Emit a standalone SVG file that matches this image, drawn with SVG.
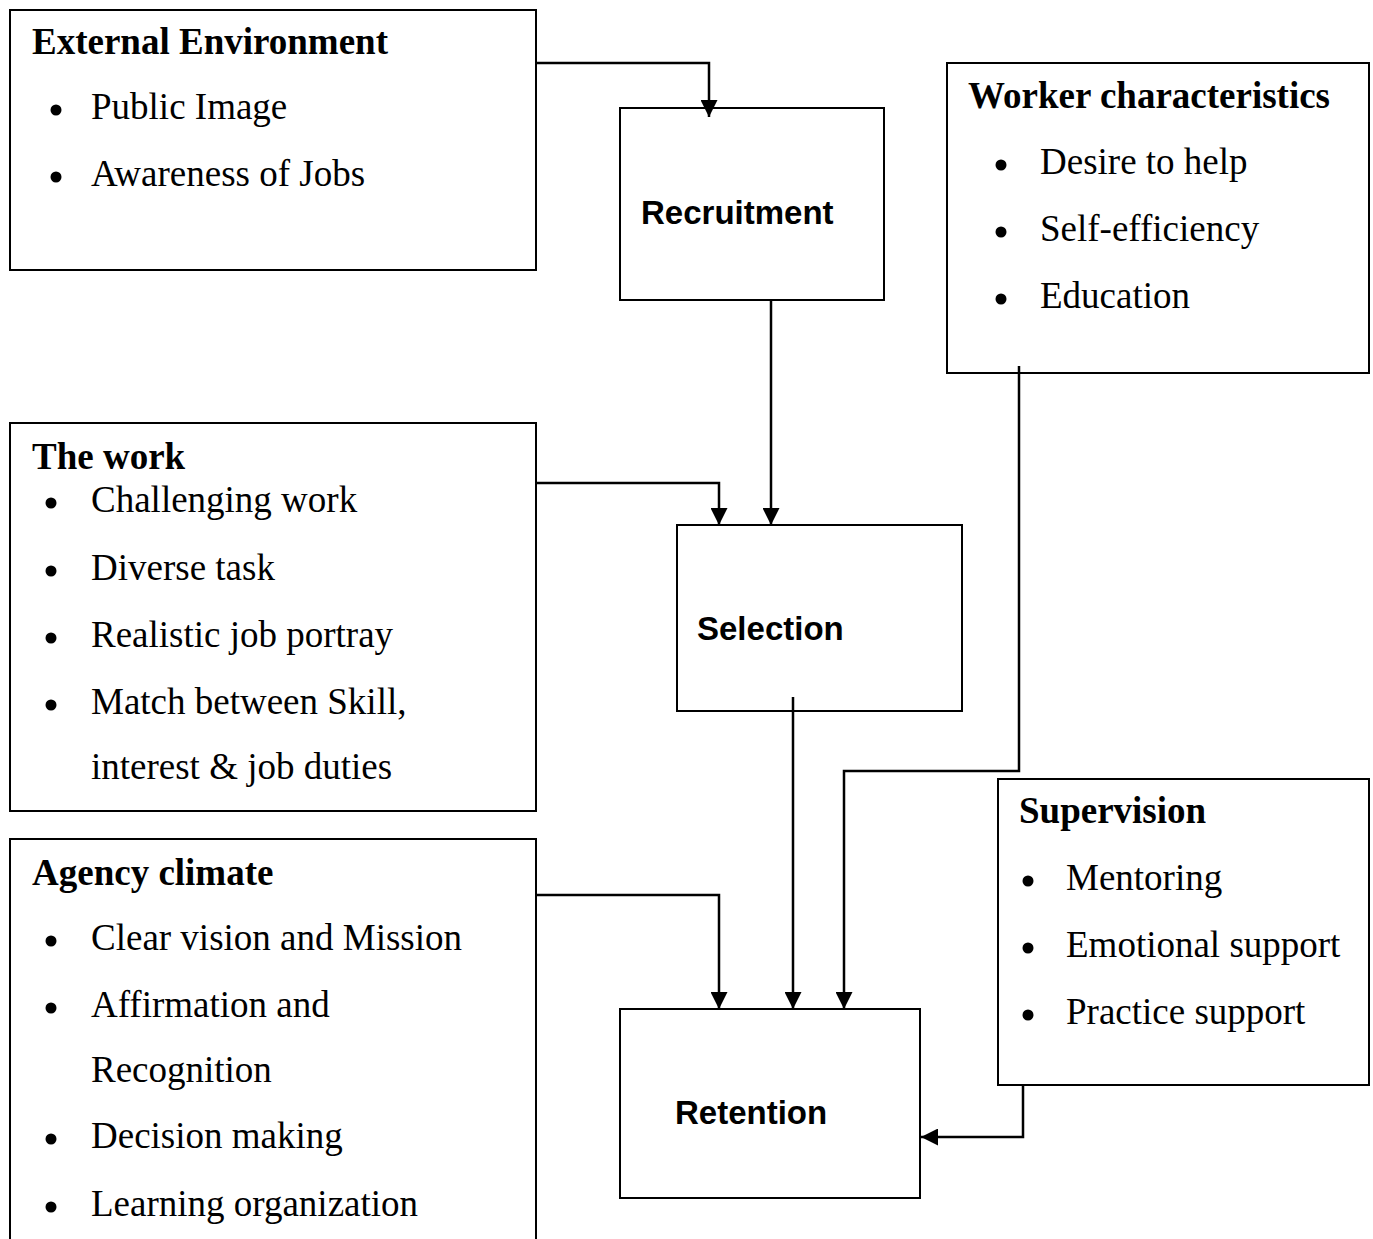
<svg xmlns="http://www.w3.org/2000/svg" width="1373" height="1239" viewBox="0 0 1373 1239">
<style>
.box{fill:#fff;stroke:#000;stroke-width:2}
.title{font-family:"Liberation Serif","Times New Roman",serif;font-weight:bold;font-size:37px;fill:#000}
.item{font-family:"Liberation Serif","Times New Roman",serif;font-size:37px;fill:#000}
.lbl{font-family:"Liberation Sans",Arial,sans-serif;font-weight:bold;font-size:33px;fill:#000}
.dot{fill:#000}
.conn{fill:none;stroke:#000;stroke-width:2.5}
</style>
<defs>
<marker id="arr" markerUnits="userSpaceOnUse" markerWidth="17" markerHeight="17" viewBox="0 0 16 16" refX="16" refY="8" orient="auto">
<path d="M0,0 L16,8 L0,16 Z" fill="#000"/>
</marker>
</defs>
<rect width="1373" height="1239" fill="#fff"/>

<g id="external-environment">
<rect class="box" x="10" y="10" width="526" height="260"/>
<text class="title" x="32" y="54">External Environment</text>
<circle class="dot" cx="56" cy="110" r="5.5"/>
<text class="item" x="91" y="119">Public Image</text>
<circle class="dot" cx="56" cy="177" r="5.5"/>
<text class="item" x="91" y="186">Awareness of Jobs</text>
</g>

<g id="recruitment">
<rect class="box" x="620" y="108" width="264" height="192"/>
<text class="lbl" x="641" y="224">Recruitment</text>
</g>

<g id="worker-characteristics">
<rect class="box" x="947" y="63" width="422" height="310"/>
<text class="title" x="968" y="108">Worker characteristics</text>
<circle class="dot" cx="1001" cy="165" r="5.5"/>
<text class="item" x="1040" y="174">Desire to help</text>
<circle class="dot" cx="1001" cy="232" r="5.5"/>
<text class="item" x="1040" y="241">Self-efficiency</text>
<circle class="dot" cx="1001" cy="299" r="5.5"/>
<text class="item" x="1040" y="308">Education</text>
</g>

<g id="the-work">
<rect class="box" x="10" y="423" width="526" height="388"/>
<text class="title" x="32" y="469">The work</text>
<circle class="dot" cx="51" cy="503" r="5.5"/>
<text class="item" x="91" y="512">Challenging work</text>
<circle class="dot" cx="51" cy="571" r="5.5"/>
<text class="item" x="91" y="580">Diverse task</text>
<circle class="dot" cx="51" cy="638" r="5.5"/>
<text class="item" x="91" y="647">Realistic job portray</text>
<circle class="dot" cx="51" cy="705" r="5.5"/>
<text class="item" x="91" y="714">Match between Skill,</text>
<text class="item" x="91" y="779">interest &amp; job duties</text>
</g>

<g id="selection">
<rect class="box" x="677" y="525" width="285" height="186"/>
<text class="lbl" x="697" y="640">Selection</text>
</g>

<g id="agency-climate">
<path class="box" d="M10,1245 L10,839 L536,839 L536,1245"/>
<text class="title" x="32" y="885">Agency climate</text>
<circle class="dot" cx="51" cy="941" r="5.5"/>
<text class="item" x="91" y="950">Clear vision and Mission</text>
<circle class="dot" cx="51" cy="1008" r="5.5"/>
<text class="item" x="91" y="1017">Affirmation and</text>
<text class="item" x="91" y="1082">Recognition</text>
<circle class="dot" cx="51" cy="1139" r="5.5"/>
<text class="item" x="91" y="1148">Decision making</text>
<circle class="dot" cx="51" cy="1207" r="5.5"/>
<text class="item" x="91" y="1216">Learning organization</text>
</g>

<g id="supervision">
<rect class="box" x="998" y="779" width="371" height="306"/>
<text class="title" x="1019" y="823">Supervision</text>
<circle class="dot" cx="1028" cy="881" r="5.5"/>
<text class="item" x="1066" y="890">Mentoring</text>
<circle class="dot" cx="1028" cy="948" r="5.5"/>
<text class="item" x="1066" y="957">Emotional support</text>
<circle class="dot" cx="1028" cy="1015" r="5.5"/>
<text class="item" x="1066" y="1024">Practice support</text>
</g>

<g id="retention">
<rect class="box" x="620" y="1009" width="300" height="189"/>
<text class="lbl" x="675" y="1124">Retention</text>
</g>

<g id="connectors">
<path class="conn" d="M536,63 L709,63 L709,117" marker-end="url(#arr)"/>
<path class="conn" d="M771,300 L771,525" marker-end="url(#arr)"/>
<path class="conn" d="M536,483 L719,483 L719,525" marker-end="url(#arr)"/>
<path class="conn" d="M793,697 L793,1009" marker-end="url(#arr)"/>
<path class="conn" d="M1019,366 L1019,771 L844,771 L844,1009" marker-end="url(#arr)"/>
<path class="conn" d="M536,895 L719,895 L719,1009" marker-end="url(#arr)"/>
<path class="conn" d="M1023,1085 L1023,1137 L921,1137" marker-end="url(#arr)"/>
</g>
</svg>
